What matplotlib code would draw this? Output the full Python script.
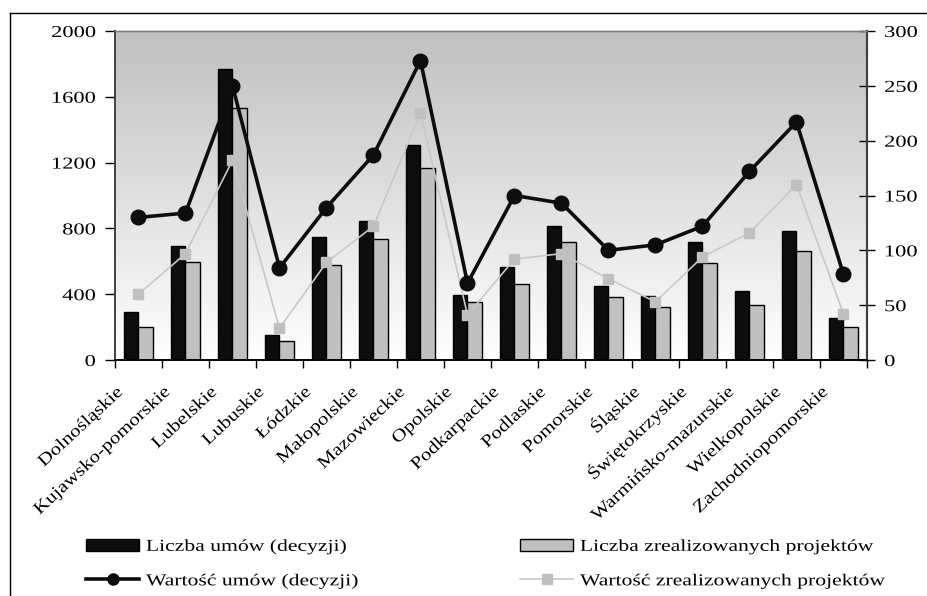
import matplotlib
matplotlib.use("Agg")
import matplotlib.pyplot as plt
from matplotlib.lines import Line2D
from matplotlib.patches import Patch
from matplotlib.patheffects import AbstractPathEffect
from matplotlib.transforms import Affine2D, ScaledTranslation
import numpy as np

plt.rcParams['font.family'] = ['Liberation Serif', 'DejaVu Serif']

# Dane
regions = ['Dolnośląskie', 'Kujawsko-pomorskie', 'Lubelskie', 'Lubuskie', 'Łódzkie',
           'Małopolskie', 'Mazowieckie', 'Opolskie', 'Podkarpackie', 'Podlaskie',
           'Pomorskie', 'Śląskie', 'Świętokrzyskie', 'Warmińsko-mazurskie',
           'Wielkopolskie', 'Zachodniopomorskie']
liczba_umow = [290, 695, 1767, 150, 750, 847, 1307, 397, 567, 813, 450, 389, 717, 417, 782, 257]
liczba_zreal = [203, 598, 1530, 118, 577, 738, 1165, 350, 460, 715, 385, 320, 588, 332, 665, 203]
wartosc_umow = [130, 134, 250, 84, 139, 187, 273, 70, 150, 143, 100, 105, 122, 172, 217, 78]
wartosc_zreal = [60, 97, 182, 29, 89, 122, 225, 41, 92, 97, 74, 53, 94, 116, 160, 42]


# tekst w oryginale jest rozciagniety w poziomie
class Stretch(AbstractPathEffect):
    def __init__(self, sx, pivot='left'):
        super().__init__()
        self.sx = sx
        self.pivot = pivot

    def draw_path(self, renderer, gc, tpath, affine, rgbFace=None):
        ext = tpath.get_extents()
        px = ext.x0 if self.pivot == 'left' else ext.x1
        t = Affine2D().translate(-px, 0).scale(self.sx, 1).translate(px, 0)
        renderer.draw_path(gc, tpath, t + affine, rgbFace)


fig = plt.figure(figsize=(9.28, 5.96), dpi=100)
ax = fig.add_axes([115/928, 1-360/596, (867-115)/928, (360-31)/596])
ax2 = ax.twinx()

x = np.arange(len(regions))
w = 0.3

# tlo gradientowe
cmap = matplotlib.colors.LinearSegmentedColormap.from_list('g', ['#ffffff', '#c0c0c0'])
grad = np.linspace(1.0, 0.0, 256).reshape(-1, 1)
ax.imshow(grad, cmap=cmap, extent=[0, 1, 0, 1], transform=ax.transAxes, aspect='auto', zorder=0)

ax.bar(x - w/2, liczba_umow, w, color='#0d0d0d', edgecolor='black', linewidth=1, zorder=2)
ax.bar(x + w/2, liczba_zreal, w, color='#c0c0c0', edgecolor='black', linewidth=1, zorder=2)

ax2.plot(x, wartosc_zreal, color='#c8c8c8', lw=1.2, marker='s', ms=7.5, mec='#c0c0c0', mfc='#c0c0c0')
ax2.plot(x, wartosc_umow, color='#0d0d0d', lw=2.6, marker='o', ms=10.5)

ax.set_xlim(-0.5, len(regions) - 0.5)
ax.set_ylim(0, 2000)
ax2.set_ylim(0, 300)
ax.set_yticks(range(0, 2001, 400))
ax2.set_yticks(range(0, 301, 50))

ax.set_xticks(np.arange(len(regions) + 1) - 0.5)
ax.set_xticklabels([])
ax.tick_params(axis='x', direction='out', length=6, width=1)
ax.tick_params(axis='y', direction='out', length=7, width=1, labelsize=12, pad=7)
ax2.tick_params(axis='y', direction='inout', length=11, width=1, labelsize=12, pad=7)

for t in ax.yaxis.get_major_ticks():
    t.label1.set_path_effects([Stretch(1.35, 'right')])
for t in ax2.yaxis.get_major_ticks():
    t.label2.set_path_effects([Stretch(1.35, 'left')])

# etykiety kategorii
off = ScaledTranslation(-15/100, -33/100, fig.dpi_scale_trans)
for i, name in enumerate(regions):
    ax.text(i, 0, name, transform=ax.get_xaxis_transform() + off, rotation=43,
            rotation_mode='anchor', ha='right', va='baseline', fontsize=12.5,
            path_effects=[Stretch(1.2, 'right')])

for a in (ax, ax2):
    a.spines['left'].set_color('#404040')
    a.spines['left'].set_linewidth(1.2)
    a.spines['top'].set_color('#808080')
    a.spines['top'].set_linewidth(1)
    a.spines['right'].set_color('#404040')
    a.spines['right'].set_linewidth(1.5)
    a.spines['bottom'].set_color('black')
    a.spines['bottom'].set_linewidth(1.2)

# ramka
fig.add_artist(Line2D([10/928, 10/928], [0, 1-13/596], color='black', lw=1))
fig.add_artist(Line2D([10/928, 1], [1-13/596, 1-13/596], color='black', lw=1))

# legenda - dwie kolumny
leg_kw = dict(frameon=False, fontsize=12, handlelength=3.2, handleheight=0.8,
              handletextpad=0.4, labelspacing=1.1, borderpad=0, borderaxespad=0, loc='center left')
leg1 = fig.legend([Patch(facecolor='#0d0d0d', edgecolor='black'),
                   Line2D([], [], color='#0d0d0d', lw=2.6, marker='o', ms=8)],
                  ['Liczba umów (decyzji)', 'Wartość umów (decyzji)'],
                  bbox_to_anchor=(86/928, 1-564/596), **leg_kw)
leg2 = fig.legend([Patch(facecolor='#c0c0c0', edgecolor='black'),
                   Line2D([], [], color='#c8c8c8', lw=1.2, marker='s', ms=7, mec='#c0c0c0', mfc='#c0c0c0')],
                  ['Liczba zrealizowanych projektów', 'Wartość zrealizowanych projektów'],
                  bbox_to_anchor=(520/928, 1-564/596), **leg_kw)
for leg in (leg1, leg2):
    for t in leg.get_texts():
        t.set_path_effects([Stretch(1.3, 'left')])

fig.savefig('out.png', dpi=100)
